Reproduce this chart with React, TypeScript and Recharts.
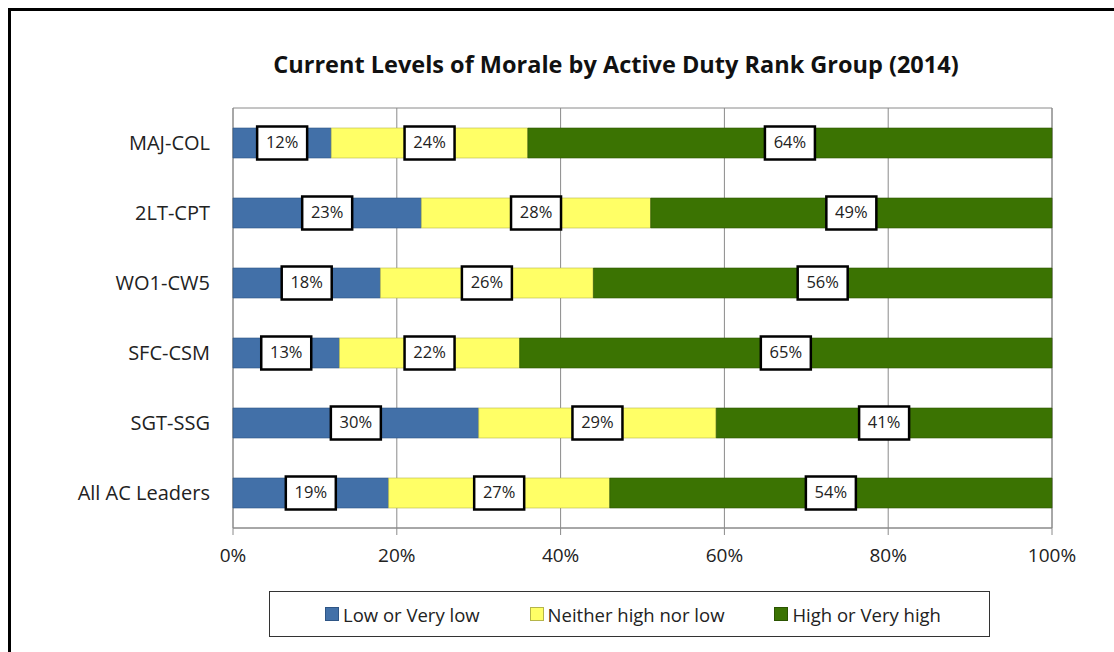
import React from "react";
import {
  BarChart,
  Bar,
  XAxis,
  YAxis,
  CartesianGrid,
  LabelList,
  ReferenceArea,
} from "recharts";

const rankGroups = [
  "MAJ-COL",
  "2LT-CPT",
  "WO1-CW5",
  "SFC-CSM",
  "SGT-SSG",
  "All AC Leaders",
];
const lowValues = [0.12, 0.23, 0.18, 0.13, 0.3, 0.19];
const neitherValues = [0.24, 0.28, 0.26, 0.22, 0.29, 0.27];
const highValues = [0.64, 0.49, 0.56, 0.65, 0.41, 0.54];
const xTicks = [0, 0.2, 0.4, 0.6, 0.8, 1];

const series = [
  { key: "low", name: "Low or Very low", color: "#4270A8", edge: "#2E5585" },
  { key: "neither", name: "Neither high nor low", color: "#FFFF66", edge: "#B5B54A" },
  { key: "high", name: "High or Very high", color: "#3B7302", edge: "#2B5401" },
];

const data = rankGroups.map((name, i) => ({
  name,
  low: lowValues[i],
  neither: neitherValues[i],
  high: highValues[i],
}));

const FONT = "'Open Sans', Lato, sans-serif";
const pct = (v: number) => `${Math.round(v * 100)}%`;

function BoxLabel(props: any) {
  const { x, y, width, height, value } = props;
  const cx = x + width / 2;
  const cy = y + height / 2;
  const w = 50;
  const h = 33;
  return (
    <g>
      <rect
        x={cx - w / 2}
        y={cy - h / 2}
        width={w}
        height={h}
        fill="#fff"
        stroke="#000"
        strokeWidth={2.5}
      />
      <text
        x={cx}
        y={cy + 1}
        textAnchor="middle"
        dominantBaseline="middle"
        fontFamily={FONT}
        fontSize={16.5}
        fill="#222">
        {pct(value)}
      </text>
    </g>
  );
}

function LegendBox() {
  return (
    <div
      style={{
        position: "absolute",
        left: 269,
        top: 591,
        width: 721,
        height: 46,
        border: "1.5px solid #333",
        boxSizing: "border-box",
        display: "flex",
        alignItems: "center",
        fontFamily: FONT,
        fontSize: 18.5,
        color: "#222",
        background: "#fff",
      }}>
      {series.map((s, i) => (
        <div
          key={s.key}
          style={{
            display: "flex",
            alignItems: "center",
            marginLeft: i === 0 ? 55 : 50,
          }}>
          <span
            style={{
              width: 12,
              height: 12,
              background: s.color,
              border: `1px solid ${s.edge}`,
              marginRight: 4,
              display: "inline-block",
            }}
          />
          {s.name}
        </div>
      ))}
    </div>
  );
}

export default function App() {
  return (
    <div
      style={{
        position: "relative",
        width: 1114,
        height: 652,
        background: "#fff",
        overflow: "hidden",
      }}>
      <style>{"body{margin:0}"}</style>
      {/* frame: only the top and left edges show in the source picture */}
      <div
        style={{
          position: "absolute",
          left: 8,
          top: 8,
          width: 1106,
          height: 2.5,
          background: "#000",
        }}
      />
      <div
        style={{
          position: "absolute",
          left: 8,
          top: 8,
          width: 2.5,
          height: 644,
          background: "#000",
        }}
      />
      <div
        style={{
          position: "absolute",
          top: 48,
          left: 116,
          width: 1000,
          textAlign: "center",
          fontFamily: FONT,
          fontWeight: 700,
          fontSize: 23.5,
          color: "#111",
          whiteSpace: "nowrap",
        }}>
        Current Levels of Morale by Active Duty Rank Group (2014)
      </div>
      <div style={{ position: "absolute", top: 8, left: 8 }}>
        <BarChart
          width={1090}
          height={636}
          layout="vertical"
          data={data}
          margin={{ top: 100, right: 46, bottom: 86, left: 85 }}
          barSize={30}>
          <CartesianGrid horizontal={false} stroke="#8a8a8a" />
          <ReferenceArea x1={0} x2={1} fill="none" stroke="#8a8a8a" ifOverflow="visible" />
          <XAxis
            type="number"
            domain={[0, 1]}
            ticks={xTicks}
            tickFormatter={pct}
            stroke="#8a8a8a"
            tickSize={7}
            tickMargin={14}
            height={30}
            tick={{ fill: "#222", fontFamily: FONT, fontSize: 19 }}
          />
          <YAxis
            type="category"
            dataKey="name"
            width={140}
            axisLine={false}
            tickLine={false}
            tickSize={0}
            tickMargin={23}
            tick={{ fill: "#222", fontFamily: FONT, fontSize: 20 }}
          />
          {series.map((s) => (
            <Bar
              key={s.key}
              dataKey={s.key}
              name={s.name}
              stackId="a"
              fill={s.color}
              stroke={s.edge}
              strokeWidth={0.6}
              isAnimationActive={false}>
              <LabelList dataKey={s.key} content={BoxLabel} />
            </Bar>
          ))}
        </BarChart>
      </div>
      <LegendBox />
    </div>
  );
}
